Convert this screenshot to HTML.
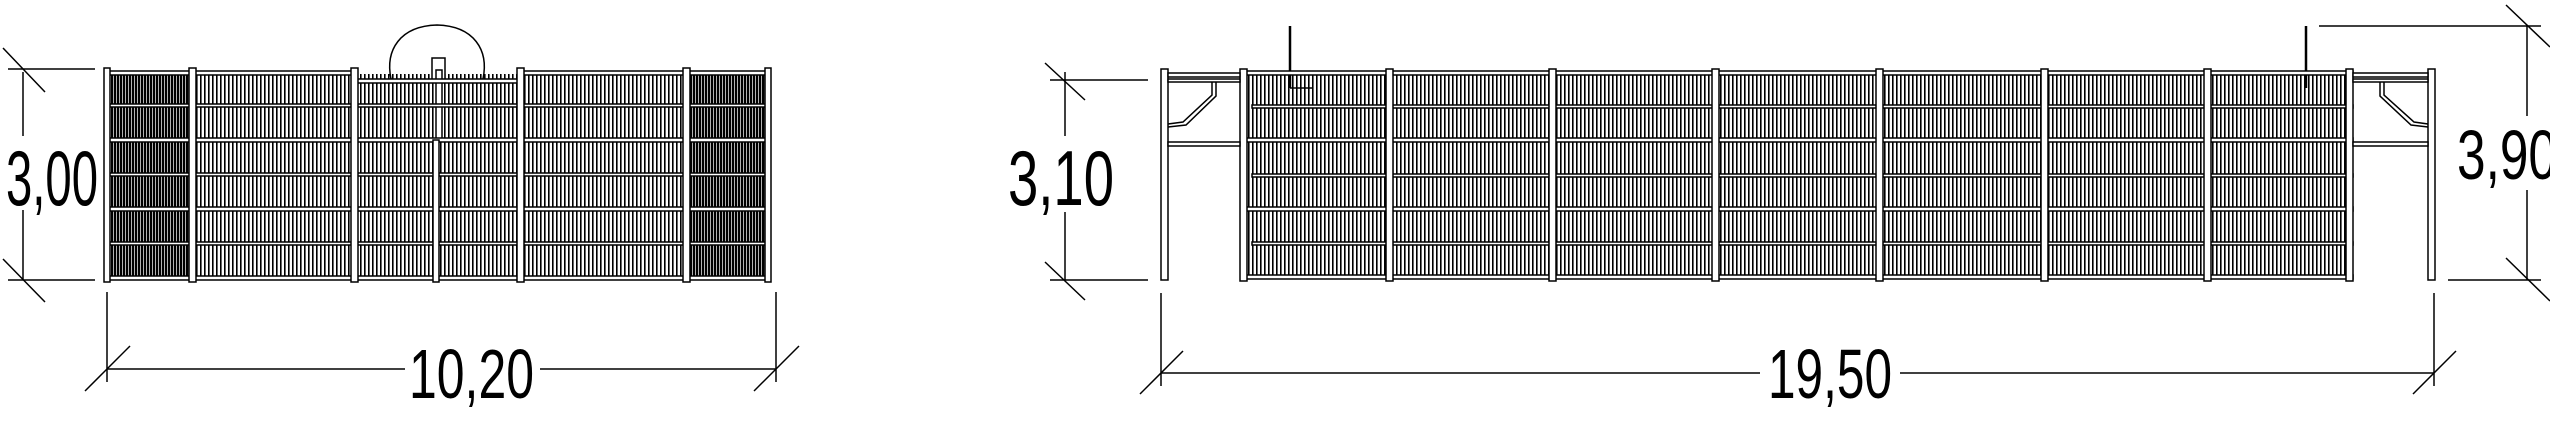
<!DOCTYPE html>
<html><head><meta charset="utf-8"><style>html,body{margin:0;padding:0;background:#fff}svg{display:block}</style></head>
<body>
<svg width="2550" height="427" viewBox="0 0 2550 427" xmlns="http://www.w3.org/2000/svg">
<defs>
<pattern id="bars" width="4" height="10" patternUnits="userSpaceOnUse"><rect width="4" height="10" fill="#fff"/><rect x="0" width="1.6" height="10" fill="#000"/></pattern>
<pattern id="dark" width="3" height="10" patternUnits="userSpaceOnUse"><rect width="3" height="10" fill="#fff"/><rect x="0" width="2.3" height="10" fill="#000"/></pattern>
</defs>
<g stroke="#000" fill="none" stroke-width="1.5">
<rect x="107" y="74" width="661" height="204" fill="url(#bars)" stroke="none"/>
<rect x="107" y="74" width="85" height="204" fill="url(#dark)" stroke="none"/>
<rect x="686" y="74" width="82" height="204" fill="url(#dark)" stroke="none"/>
<path d="M391 79 C385 50 400 26 437 25 C474 26 489 50 483 79"/>
<rect x="432" y="58" width="13" height="22" fill="#fff"/>
<rect x="436" y="70" width="6" height="70" fill="#fff"/>
<g fill="#fff">
<rect x="107" y="71" width="85" height="4"/><rect x="192" y="71" width="162" height="4"/><rect x="354" y="79" width="166" height="4"/><rect x="520" y="71" width="166" height="4"/><rect x="686" y="71" width="82" height="4"/>
<rect x="107" y="138" width="661" height="4"/><rect x="107" y="207" width="661" height="4"/><rect x="107" y="276" width="661" height="4"/>
<rect x="107" y="104" width="661" height="3"/><rect x="107" y="173" width="661" height="3"/><rect x="107" y="242" width="661" height="3"/>
<rect x="104" y="68" width="6" height="214"/><rect x="189" y="68" width="7" height="214"/><rect x="351" y="68" width="7" height="214"/><rect x="433" y="140" width="6" height="142"/><rect x="517" y="68" width="7" height="214"/><rect x="683" y="68" width="7" height="214"/><rect x="765" y="68" width="6" height="214"/>
</g>
<line x1="23" y1="72" x2="23" y2="136"/><line x1="23" y1="210" x2="23" y2="280"/>
<line x1="8" y1="69" x2="95" y2="69"/><line x1="8" y1="280" x2="95" y2="280"/>
<line x1="3" y1="48" x2="45" y2="92"/><line x1="3" y1="259" x2="45" y2="302"/>
<line x1="107" y1="292" x2="107" y2="382"/><line x1="776" y1="292" x2="776" y2="382"/>
<line x1="107" y1="369" x2="405" y2="369"/><line x1="540" y1="369" x2="776" y2="369"/>
<line x1="85" y1="391" x2="130" y2="346"/><line x1="754" y1="391" x2="799" y2="346"/>

<rect x="1246" y="75" width="1107" height="203" fill="url(#bars)" stroke="none"/>
<line x1="1290" y1="26" x2="1290" y2="88" stroke-width="2.5"/><line x1="1290" y1="88" x2="1313" y2="88"/>
<line x1="2306" y1="26" x2="2306" y2="88" stroke-width="2.5"/>
<g fill="#fff">
<rect x="1246" y="71" width="1107" height="4"/><rect x="1246" y="138" width="1107" height="4"/><rect x="1246" y="207" width="1107" height="4"/><rect x="1246" y="275" width="1107" height="4"/>
<rect x="1252" y="105" width="1101" height="3"/><rect x="1252" y="174" width="1101" height="3"/><rect x="1252" y="242" width="1101" height="3"/>
<rect x="1240" y="69" width="7" height="212"/><rect x="1386" y="69" width="7" height="212"/><rect x="1549" y="69" width="7" height="212"/><rect x="1712" y="69" width="7" height="212"/><rect x="1876" y="69" width="7" height="212"/><rect x="2041" y="69" width="7" height="212"/><rect x="2204" y="69" width="7" height="212"/><rect x="2346" y="69" width="7" height="212"/>
<rect x="1161" y="69" width="7" height="211"/><rect x="2428" y="69" width="7" height="211"/>
<rect x="1168" y="73" width="72" height="4"/><rect x="1168" y="79" width="72" height="3"/><rect x="1168" y="142" width="72" height="4"/>
<rect x="2353" y="73" width="75" height="4"/><rect x="2353" y="79" width="75" height="3"/><rect x="2353" y="142" width="75" height="4"/>
</g>
<path d="M1212 82 L1212 95 L1183 122 L1168 124"/><path d="M1216 82 L1216 96 L1186 125 L1168 127"/>
<path d="M2384 82 L2384 95 L2414 122 L2428 124"/><path d="M2380 82 L2380 96 L2411 125 L2428 127"/>
<line x1="1065" y1="72" x2="1065" y2="136"/><line x1="1065" y1="212" x2="1065" y2="280"/>
<line x1="1050" y1="80" x2="1148" y2="80"/><line x1="1050" y1="280" x2="1148" y2="280"/>
<line x1="1045" y1="63" x2="1085" y2="100"/><line x1="1045" y1="262" x2="1085" y2="300"/>
<line x1="2319" y1="26" x2="2541" y2="26"/><line x1="2448" y1="280" x2="2541" y2="280"/>
<line x1="2527" y1="26" x2="2527" y2="116"/><line x1="2527" y1="190" x2="2527" y2="280"/>
<line x1="2506" y1="5" x2="2550" y2="47"/><line x1="2506" y1="258" x2="2550" y2="301"/>
<line x1="1161" y1="293" x2="1161" y2="386"/><line x1="2434" y1="293" x2="2434" y2="386"/>
<line x1="1161" y1="373" x2="1760" y2="373"/><line x1="1900" y1="373" x2="2434" y2="373"/>
<line x1="1140" y1="394" x2="1183" y2="351"/><line x1="2413" y1="394" x2="2456" y2="351"/>
</g>
<g font-family="'Liberation Sans', sans-serif" fill="#000">
<text x="6" y="205" font-size="78" textLength="92" lengthAdjust="spacingAndGlyphs">3,00</text>
<text x="409" y="398" font-size="70" textLength="125" lengthAdjust="spacingAndGlyphs">10,20</text>
<text x="1008" y="205" font-size="78" textLength="106" lengthAdjust="spacingAndGlyphs">3,10</text>
<text x="2457" y="179" font-size="70" textLength="100" lengthAdjust="spacingAndGlyphs">3,90</text>
<text x="1768" y="398" font-size="70" textLength="124" lengthAdjust="spacingAndGlyphs">19,50</text>
</g>
</svg>
</body></html>
